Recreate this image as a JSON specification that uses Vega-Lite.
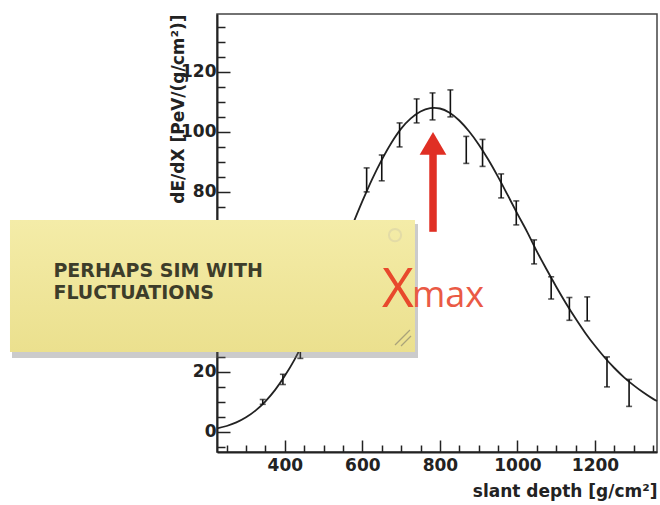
{
  "$schema": "https://vega.github.io/schema/vega-lite/v6.json",
  "width": 440,
  "height": 438,
  "autosize": {"type": "none"},
  "padding": {"left": 217, "top": 14, "right": 3, "bottom": 53},
  "background": "white",
  "config": {
    "view": {"stroke": "#444", "strokeWidth": 1.5},
    "axis": {
      "labelFont": "DejaVu Sans", "labelFontWeight": "bold", "labelFontSize": 17, "labelColor": "#222",
      "titleFont": "DejaVu Sans", "titleFontWeight": "bold", "titleFontSize": 17, "titleColor": "#222",
      "domainColor": "#222", "domainWidth": 2, "tickColor": "#222", "tickWidth": 1.5,
      "grid": false, "labelFlush": false, "labelOverlap": false
    }
  },
  "datasets": {
    "curve": [
      {"depth": 225, "dedx": 1.16}, {"depth": 250, "dedx": 1.97}, {"depth": 275, "dedx": 3.16},
      {"depth": 300, "dedx": 4.86}, {"depth": 325, "dedx": 7.18}, {"depth": 350, "dedx": 10.2},
      {"depth": 375, "dedx": 14.0}, {"depth": 400, "dedx": 18.7}, {"depth": 425, "dedx": 24.1},
      {"depth": 450, "dedx": 30.4}, {"depth": 475, "dedx": 37.4}, {"depth": 500, "dedx": 45.0},
      {"depth": 525, "dedx": 52.9}, {"depth": 550, "dedx": 61.0}, {"depth": 575, "dedx": 69.1},
      {"depth": 600, "dedx": 76.9}, {"depth": 625, "dedx": 84.2}, {"depth": 650, "dedx": 90.7},
      {"depth": 675, "dedx": 96.4}, {"depth": 700, "dedx": 101.1}, {"depth": 725, "dedx": 104.5},
      {"depth": 750, "dedx": 106.8}, {"depth": 775, "dedx": 107.9}, {"depth": 785, "dedx": 108.0},
      {"depth": 800, "dedx": 107.8}, {"depth": 825, "dedx": 106.4}, {"depth": 850, "dedx": 103.8},
      {"depth": 875, "dedx": 100.2}, {"depth": 900, "dedx": 95.8}, {"depth": 925, "dedx": 90.7},
      {"depth": 950, "dedx": 85.0}, {"depth": 975, "dedx": 78.9}, {"depth": 1000, "dedx": 72.7},
      {"depth": 1025, "dedx": 66.7}, {"depth": 1050, "dedx": 60.2}, {"depth": 1075, "dedx": 54.2},
      {"depth": 1100, "dedx": 48.4}, {"depth": 1125, "dedx": 42.9}, {"depth": 1150, "dedx": 37.8},
      {"depth": 1175, "dedx": 33.0}, {"depth": 1200, "dedx": 28.7}, {"depth": 1225, "dedx": 24.8},
      {"depth": 1250, "dedx": 21.3}, {"depth": 1275, "dedx": 18.2}, {"depth": 1300, "dedx": 15.5},
      {"depth": 1325, "dedx": 13.1}, {"depth": 1350, "dedx": 11.0}, {"depth": 1360, "dedx": 10.3}
    ],
    "points": [
      {"depth": 343, "dedx": 10.0, "lo": 9.2, "hi": 10.8},
      {"depth": 395, "dedx": 17.5, "lo": 15.8, "hi": 19.2},
      {"depth": 440, "dedx": 27.0, "lo": 24.5, "hi": 29.5},
      {"depth": 490, "dedx": 41.0, "lo": 38.0, "hi": 44.0},
      {"depth": 540, "dedx": 57.0, "lo": 53.5, "hi": 60.5},
      {"depth": 611, "dedx": 84.0, "lo": 80.0, "hi": 88.0},
      {"depth": 650, "dedx": 88.0, "lo": 83.7, "hi": 92.3},
      {"depth": 696, "dedx": 99.0, "lo": 95.0, "hi": 103.0},
      {"depth": 740, "dedx": 107.0, "lo": 103.0, "hi": 111.0},
      {"depth": 781, "dedx": 108.5, "lo": 104.0, "hi": 113.0},
      {"depth": 827, "dedx": 109.5, "lo": 105.0, "hi": 114.0},
      {"depth": 868, "dedx": 94.0, "lo": 89.5, "hi": 98.5},
      {"depth": 910, "dedx": 93.0, "lo": 88.5, "hi": 97.5},
      {"depth": 958, "dedx": 82.0, "lo": 78.0, "hi": 86.0},
      {"depth": 997, "dedx": 73.0, "lo": 69.0, "hi": 77.0},
      {"depth": 1043, "dedx": 60.0, "lo": 56.0, "hi": 64.0},
      {"depth": 1087, "dedx": 48.0, "lo": 44.3, "hi": 51.7},
      {"depth": 1134, "dedx": 41.0, "lo": 37.2, "hi": 44.8},
      {"depth": 1180, "dedx": 41.0, "lo": 37.0, "hi": 45.0},
      {"depth": 1231, "dedx": 20.0, "lo": 15.0, "hi": 25.0},
      {"depth": 1288, "dedx": 13.0, "lo": 8.5, "hi": 17.5}
    ]
  },
  "layer": [
    {
      "data": {"name": "curve"},
      "mark": {"type": "line", "color": "#222", "strokeWidth": 1.8, "interpolate": "monotone"},
      "encoding": {
        "x": {
          "field": "depth", "type": "quantitative",
          "scale": {"domain": [225, 1360], "nice": false, "zero": false},
          "axis": {
            "values": [250, 300, 350, 400, 450, 500, 550, 600, 650, 700, 750, 800, 850, 900, 950, 1000, 1050, 1100, 1150, 1200, 1250, 1300, 1350],
            "tickCount": 200,
            "format": "d",
            "labelExpr": "datum.value % 200 === 0 ? datum.label : ''",
            "tickSize": {"condition": {"test": "datum.value % 200 === 0", "value": -12}, "value": -7},
            "labelPadding": 17,
            "title": "slant depth [g/cm²]",
            "titleAnchor": "end",
            "titleAlign": "right",
            "titleBaseline": "alphabetic",
            "titleY": 44
          }
        },
        "y": {
          "field": "dedx", "type": "quantitative",
          "scale": {"domain": [-6.7, 139.3], "nice": false, "zero": false},
          "axis": {
            "values": [-5, 0, 5, 10, 15, 20, 25, 30, 35, 40, 45, 50, 55, 60, 65, 70, 75, 80, 85, 90, 95, 100, 105, 110, 115, 120, 125, 130, 135],
            "tickCount": 200,
            "format": "d",
            "labelExpr": "datum.value % 20 === 0 && datum.value !== 40 && datum.value !== 60 ? datum.label : ''",
            "tickSize": {"condition": {"test": "datum.value % 20 === 0", "value": -13}, "value": -8},
            "labelPadding": 14,
            "title": "dE/dX [PeV/(g/cm²)]",
            "titleAnchor": "end",
            "titleX": -30
          }
        }
      }
    },
    {
      "data": {"name": "points"},
      "mark": {"type": "rule", "color": "#111", "strokeWidth": 1.6},
      "encoding": {
        "x": {"field": "depth", "type": "quantitative"},
        "y": {"field": "lo", "type": "quantitative"},
        "y2": {"field": "hi"}
      }
    },
    {
      "data": {"name": "points"},
      "mark": {"type": "tick", "color": "#111", "orient": "horizontal", "size": 6, "thickness": 1.6},
      "encoding": {
        "x": {"field": "depth", "type": "quantitative"},
        "y": {"field": "lo", "type": "quantitative"}
      }
    },
    {
      "data": {"name": "points"},
      "mark": {"type": "tick", "color": "#111", "orient": "horizontal", "size": 6, "thickness": 1.6},
      "encoding": {
        "x": {"field": "depth", "type": "quantitative"},
        "y": {"field": "hi", "type": "quantitative"}
      }
    },
    {
      "data": {"values": [{}]},
      "mark": {"type": "rect", "color": "#6a6a6a", "opacity": 0.35},
      "encoding": {
        "x": {"datum": -303.8, "type": "quantitative"},
        "x2": {"datum": 743.5},
        "y": {"datum": 69.3, "type": "quantitative"},
        "y2": {"datum": 24.6}
      }
    },
    {
      "data": {"values": [{}]},
      "mark": {
        "type": "rect",
        "color": {"gradient": "linear", "x1": 0, "y1": 0, "x2": 0, "y2": 1,
          "stops": [{"offset": 0, "color": "#f4eca8"}, {"offset": 1, "color": "#ebe08e"}]}
      },
      "encoding": {
        "x": {"datum": -309, "type": "quantitative"},
        "x2": {"datum": 735.7},
        "y": {"datum": 70.6, "type": "quantitative"},
        "y2": {"datum": 26.6}
      }
    },
    {
      "data": {"values": [{}]},
      "mark": {"type": "text", "text": ["PERHAPS SIM WITH", "FLUCTUATIONS"], "font": "DejaVu Sans", "fontWeight": "bold", "fontSize": 19, "lineHeight": 21.5, "align": "left", "baseline": "alphabetic", "color": "#3d3d2a"},
      "encoding": {
        "x": {"datum": -197, "type": "quantitative"},
        "y": {"datum": 51.6, "type": "quantitative"}
      }
    },
    {
      "data": {"values": [{}]},
      "mark": {"type": "point", "shape": "circle", "filled": false, "size": 150, "strokeWidth": 2, "color": "#ddd6a8"},
      "encoding": {
        "x": {"datum": 684.2, "type": "quantitative"},
        "y": {"datum": 65.6, "type": "quantitative"}
      }
    },
    {
      "data": {"values": [{"x1": 684.2, "x2": 722.8, "y1": 28.97, "y2": 33.97}, {"x1": 699.6, "x2": 725.4, "y1": 28.63, "y2": 31.97}]},
      "mark": {"type": "rule", "color": "#aaa37a", "strokeWidth": 1.2},
      "encoding": {
        "x": {"field": "x1", "type": "quantitative"},
        "x2": {"field": "x2"},
        "y": {"field": "y1", "type": "quantitative"},
        "y2": {"field": "y2"}
      }
    },
    {
      "data": {"values": [{}]},
      "mark": {"type": "rule", "color": "#e02f24", "strokeWidth": 7.5},
      "encoding": {
        "x": {"datum": 782.2, "type": "quantitative"},
        "y": {"datum": 66.7, "type": "quantitative"},
        "y2": {"datum": 94.0}
      }
    },
    {
      "data": {"values": [{}]},
      "mark": {"type": "point", "shape": "M0,-0.85L1,0.85L-1,0.85Z", "filled": true, "opacity": 1, "size": 713, "color": "#e02f24", "strokeWidth": 0},
      "encoding": {
        "x": {"datum": 782.2, "type": "quantitative"},
        "y": {"datum": 96.2, "type": "quantitative"}
      }
    },
    {
      "data": {"values": [{}]},
      "mark": {"type": "text", "text": "X", "font": "Open Sans", "fontSize": 55, "align": "left", "baseline": "alphabetic", "color": "#e8492c"},
      "encoding": {
        "x": {"datum": 650.6, "type": "quantitative"},
        "y": {"datum": 41.6, "type": "quantitative"}
      }
    },
    {
      "data": {"values": [{}]},
      "mark": {"type": "text", "text": "max", "font": "Open Sans", "fontSize": 36, "align": "left", "baseline": "alphabetic", "color": "#ea5a45"},
      "encoding": {
        "x": {"datum": 728.0, "type": "quantitative"},
        "y": {"datum": 41.6, "type": "quantitative"}
      }
    }
  ]
}
